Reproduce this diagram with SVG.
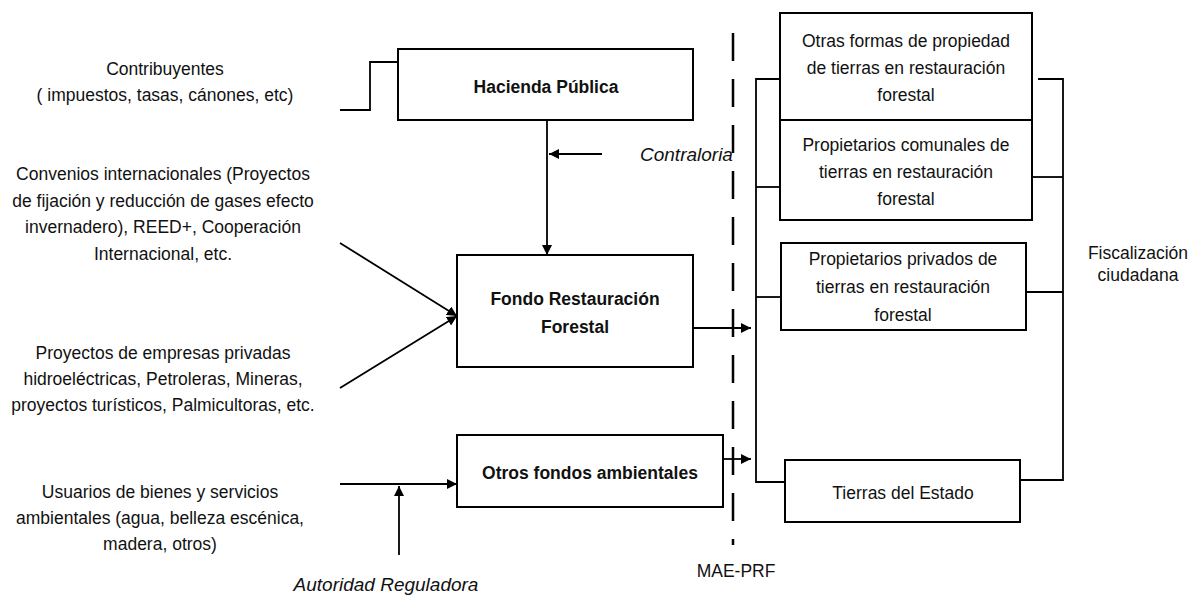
<svg xmlns="http://www.w3.org/2000/svg" width="1198" height="595" viewBox="0 0 1198 595">
<defs>
<marker id="ah" viewBox="0 0 10 10" refX="10" refY="5" markerWidth="10" markerHeight="10" markerUnits="userSpaceOnUse" orient="auto">
<path d="M0,0 L10,5 L0,10 Z" fill="#000"/>
</marker>
</defs>
<style>
.box{fill:#fff;stroke:#000;stroke-width:2}
.ln{fill:none;stroke:#000;stroke-width:1.8}
.t{font-family:"Liberation Sans",Arial,sans-serif;font-size:17.5px;fill:#111;text-anchor:middle}
.b{font-weight:bold}
.i{font-style:italic;font-size:19px}
</style>
<rect width="1198" height="595" fill="#fff"/>

<g id="connectors">
<polyline class="ln" points="340,110 370,110 370,62 398,62"/>
<line class="ln" x1="547" y1="120" x2="547" y2="255" marker-end="url(#ah)"/>
<line class="ln" x1="602" y1="154" x2="549" y2="154" marker-end="url(#ah)"/>
<line class="ln" x1="340" y1="243" x2="457" y2="316" marker-end="url(#ah)"/>
<line class="ln" x1="340" y1="388" x2="457" y2="316" marker-end="url(#ah)"/>
<line class="ln" x1="693" y1="328" x2="751" y2="328" marker-end="url(#ah)"/>
<line class="ln" x1="723" y1="459" x2="751" y2="459" marker-end="url(#ah)"/>
<line class="ln" x1="340" y1="484" x2="457" y2="484" marker-end="url(#ah)"/>
<line class="ln" x1="399" y1="555" x2="399" y2="486" marker-end="url(#ah)"/>
<line x1="733" y1="33" x2="733" y2="545" stroke="#000" stroke-width="2.5" stroke-dasharray="28 18"/>
<polyline class="ln" points="780,79 756,79 756,482 785,482"/>
<line class="ln" x1="756" y1="187" x2="780" y2="187"/>
<line class="ln" x1="756" y1="297" x2="781" y2="297"/>
<polyline class="ln" points="1038,79 1063,79 1063,480 1020,480"/>
<line class="ln" x1="1032" y1="177" x2="1063" y2="177"/>
<line class="ln" x1="1026" y1="292" x2="1063" y2="292"/>
</g>

<g id="contribuyentes">
<text class="t" x="165" y="75">Contribuyentes</text>
<text class="t" x="165" y="101">( impuestos, tasas, cánones, etc)</text>
</g>
<g id="convenios">
<text class="t" x="163" y="180">Convenios internacionales (Proyectos</text>
<text class="t" x="163" y="207">de fijación y reducción de gases efecto</text>
<text class="t" x="163" y="233">invernadero), REED+, Cooperación</text>
<text class="t" x="163" y="260">Internacional, etc.</text>
</g>
<g id="proyectos">
<text class="t" x="163" y="359">Proyectos de empresas privadas</text>
<text class="t" x="163" y="385">hidroeléctricas, Petroleras, Mineras,</text>
<text class="t" x="163" y="411">proyectos turísticos, Palmicultoras, etc.</text>
</g>
<g id="usuarios">
<text class="t" x="160" y="498">Usuarios de bienes y servicios</text>
<text class="t" x="160" y="524">ambientales (agua, belleza escénica,</text>
<text class="t" x="160" y="550">madera, otros)</text>
</g>
<g id="hacienda">
<rect class="box" x="398" y="49" width="295" height="71"/>
<text class="t b" x="546" y="93">Hacienda Pública</text>
</g>
<g id="contraloria">
<text class="t i" x="640" y="161" style="text-anchor:start">Contraloria</text>
</g>
<g id="fondo">
<rect class="box" x="457" y="255" width="236" height="112"/>
<text class="t b" x="575" y="305">Fondo Restauración</text>
<text class="t b" x="575" y="333">Forestal</text>
</g>
<g id="otros-fondos">
<rect class="box" x="457" y="435" width="266" height="72"/>
<text class="t b" x="590" y="479">Otros fondos ambientales</text>
</g>
<g id="autoridad">
<text class="t i" x="386" y="591">Autoridad Reguladora</text>
</g>
<g id="mae">
<text class="t" x="736" y="577">MAE-PRF</text>
</g>
<g id="otras-formas">
<rect class="box" x="780" y="13" width="252" height="107"/>
<text class="t" x="906" y="47">Otras formas de propiedad</text>
<text class="t" x="906" y="74">de tierras en restauración</text>
<text class="t" x="906" y="101">forestal</text>
</g>
<g id="comunales">
<rect class="box" x="780" y="120" width="252" height="100"/>
<text class="t" x="906" y="151">Propietarios comunales de</text>
<text class="t" x="906" y="178">tierras en restauración</text>
<text class="t" x="906" y="205">forestal</text>
</g>
<g id="privados">
<rect class="box" x="781" y="243" width="245" height="87"/>
<text class="t" x="903" y="265">Propietarios privados de</text>
<text class="t" x="903" y="293">tierras en restauración</text>
<text class="t" x="903" y="321">forestal</text>
</g>
<g id="tierras-estado">
<rect class="box" x="785" y="460" width="235" height="62"/>
<text class="t" x="903" y="499">Tierras del Estado</text>
</g>
<g id="fiscalizacion">
<text class="t" x="1138" y="259">Fiscalización</text>
<text class="t" x="1138" y="281">ciudadana</text>
</g>
</svg>
